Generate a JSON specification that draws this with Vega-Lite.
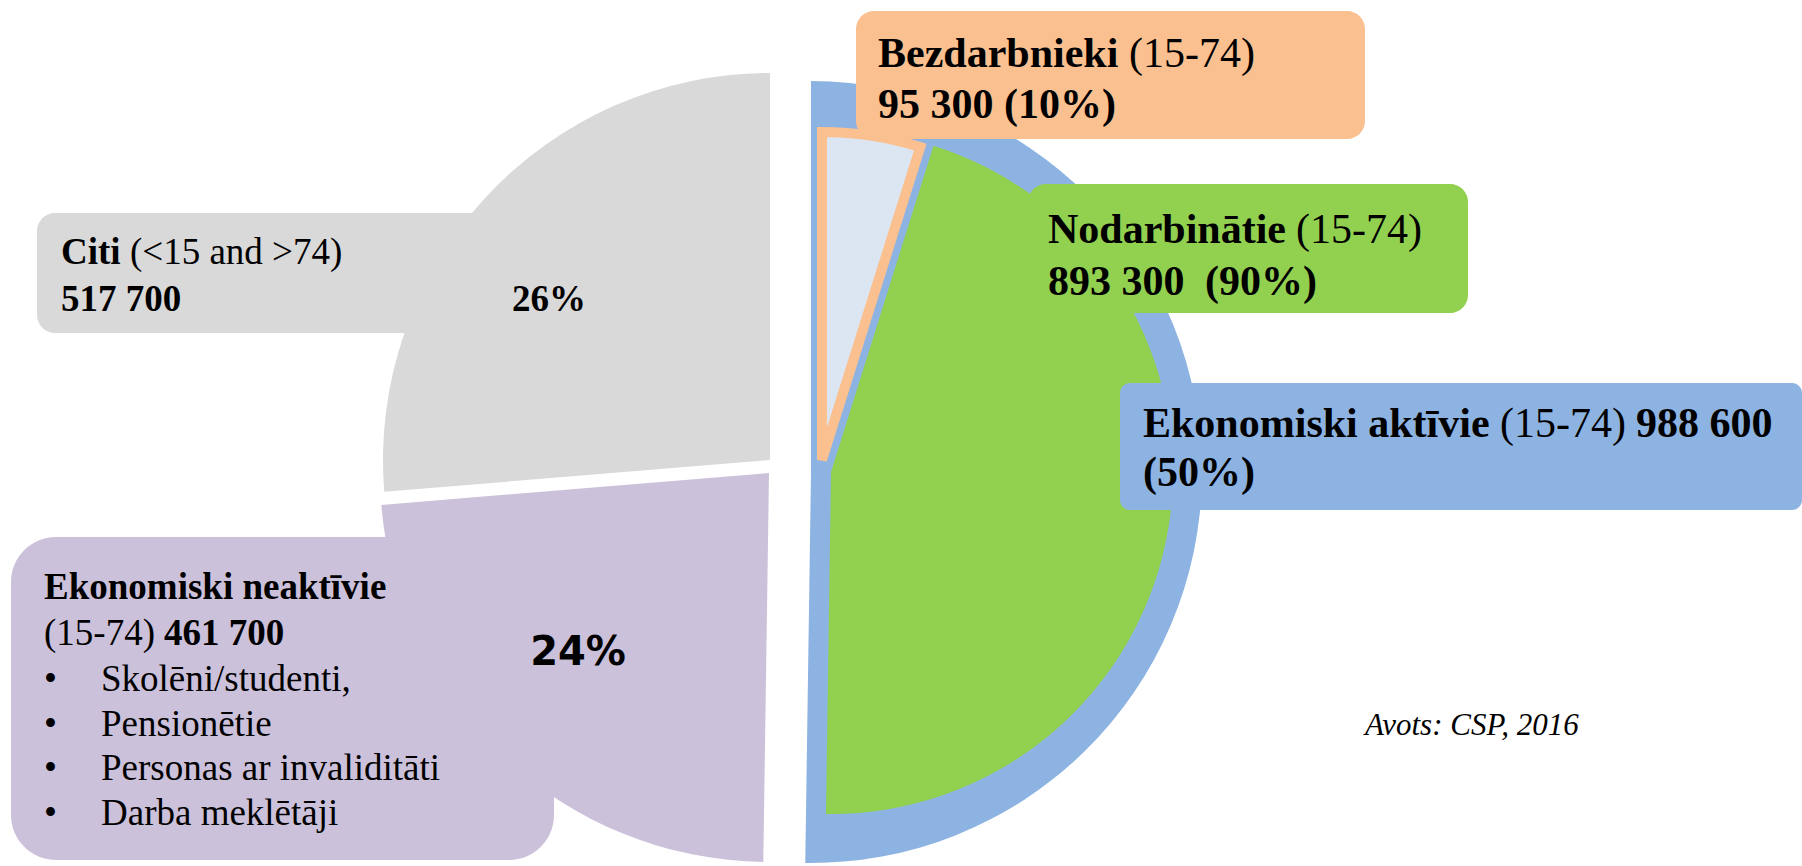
{
 "$schema": "https://vega.github.io/schema/vega-lite/v6.json",
 "width": 1802, "height": 866,
 "autosize": {"type": "fit", "contains": "padding"},
 "padding": 0,
 "background": "white",
 "config": {
  "view": {"stroke": null},
  "axis": {"disable": true},
  "locale": {"number": {"decimal": ".", "thousands": " ", "grouping": [3], "currency": ["", ""]}},
  "text": {"font": "Liberation Serif", "fontSize": 42, "align": "left", "baseline": "middle", "fill": "black"}
 },
 "datasets": {
  "parts": [
   {"level": "outer", "category": "Ekonomiski aktīvie", "age": "(15-74)", "value": 988600, "share": "(50%)"},
   {"level": "outer", "category": "Ekonomiski neaktīvie", "age": "(15-74)", "value": 461700, "share": "24%", "items": ["Skolēni/studenti,", "Pensionētie", "Personas ar invaliditāti", "Darba meklētāji"]},
   {"level": "outer", "category": "Citi", "age": "(<15 and >74)", "value": 517700, "share": "26%"},
   {"level": "inner", "category": "Bezdarbnieki", "age": "(15-74)", "value": 95300, "share": "(10%)"},
   {"level": "inner", "category": "Nodarbinātie", "age": "(15-74)", "value": 893300, "share": "(90%)"}
  ],
  "source": [{"source": "Avots: CSP, 2016"}]
 },
 "data": {"name": "parts"},
 "transform": [{"stack": "value", "groupby": ["level"], "as": ["v0", "v1"]}],
 "layer": [
  {"transform": [{"filter": {"field": "category", "equal": "Ekonomiski aktīvie"}}],
   "mark": {"type": "arc", "outerRadius": 391, "color": "#8DB3E2"},
   "encoding": {"theta": {"field": "v1", "type": "quantitative"}, "theta2": {"field": "v0"},
    "x": {"datum": 811, "type": "quantitative", "scale": {"domain": [0, 1802], "nice": false, "zero": false}, "axis": null},
    "y": {"datum": 472, "type": "quantitative", "scale": {"domain": [0, 866], "reverse": true, "nice": false, "zero": false}, "axis": null}}},
  {"transform": [{"filter": {"field": "category", "equal": "Nodarbinātie"}}],
   "mark": {"type": "arc", "outerRadius": 342, "color": "#92D050"},
   "encoding": {"theta": {"field": "v1", "type": "quantitative"}, "theta2": {"field": "v0"},
    "x": {"datum": 831, "type": "quantitative", "scale": {"domain": [0, 1802], "nice": false, "zero": false}, "axis": null},
    "y": {"datum": 472, "type": "quantitative", "scale": {"domain": [0, 866], "reverse": true, "nice": false, "zero": false}, "axis": null}}},
  {"transform": [{"filter": {"field": "category", "equal": "Bezdarbnieki"}}],
   "mark": {"type": "arc", "outerRadius": 328, "fill": "#DCE6F2", "stroke": "#FAC090", "strokeWidth": 10, "strokeJoin": "miter"},
   "encoding": {"theta": {"field": "v1", "type": "quantitative"}, "theta2": {"field": "v0"},
    "x": {"datum": 822, "type": "quantitative", "scale": {"domain": [0, 1802], "nice": false, "zero": false}, "axis": null},
    "y": {"datum": 460, "type": "quantitative", "scale": {"domain": [0, 866], "reverse": true, "nice": false, "zero": false}, "axis": null}}},
  {"transform": [{"filter": {"field": "category", "equal": "Citi"}}],
   "mark": {"type": "arc", "outerRadius": 387, "color": "#D9D9D9"},
   "encoding": {"theta": {"field": "v1", "type": "quantitative"}, "theta2": {"field": "v0"},
    "x": {"datum": 770, "type": "quantitative", "scale": {"domain": [0, 1802], "nice": false, "zero": false}, "axis": null},
    "y": {"datum": 460, "type": "quantitative", "scale": {"domain": [0, 866], "reverse": true, "nice": false, "zero": false}, "axis": null}}},
  {"transform": [{"filter": {"field": "category", "equal": "Ekonomiski neaktīvie"}}],
   "mark": {"type": "arc", "outerRadius": 389, "color": "#CCC1DA"},
   "encoding": {"theta": {"field": "v1", "type": "quantitative"}, "theta2": {"field": "v0"},
    "x": {"datum": 769, "type": "quantitative", "scale": {"domain": [0, 1802], "nice": false, "zero": false}, "axis": null},
    "y": {"datum": 473, "type": "quantitative", "scale": {"domain": [0, 866], "reverse": true, "nice": false, "zero": false}, "axis": null}}},

  {"transform": [{"filter": {"field": "category", "equal": "Bezdarbnieki"}}],
   "mark": {"type": "rect", "cornerRadius": 18, "color": "#FAC090"},
   "encoding": {"x": {"datum": 856, "type": "quantitative"}, "x2": {"datum": 1365}, "y": {"datum": 11, "type": "quantitative"}, "y2": {"datum": 139}}},
  {"transform": [{"filter": {"field": "category", "equal": "Nodarbinātie"}}],
   "mark": {"type": "rect", "cornerRadius": 18, "color": "#92D050"},
   "encoding": {"x": {"datum": 1028, "type": "quantitative"}, "x2": {"datum": 1468}, "y": {"datum": 184, "type": "quantitative"}, "y2": {"datum": 313}}},
  {"transform": [{"filter": {"field": "category", "equal": "Ekonomiski aktīvie"}}],
   "mark": {"type": "rect", "cornerRadius": 10, "color": "#8DB3E2"},
   "encoding": {"x": {"datum": 1120, "type": "quantitative"}, "x2": {"datum": 1802}, "y": {"datum": 383, "type": "quantitative"}, "y2": {"datum": 510}}},
  {"transform": [{"filter": {"field": "category", "equal": "Citi"}}],
   "mark": {"type": "rect", "cornerRadius": 18, "color": "#D9D9D9"},
   "encoding": {"x": {"datum": 37, "type": "quantitative"}, "x2": {"datum": 560}, "y": {"datum": 213, "type": "quantitative"}, "y2": {"datum": 333}}},
  {"transform": [{"filter": {"field": "category", "equal": "Ekonomiski neaktīvie"}}],
   "mark": {"type": "rect", "cornerRadius": 45, "color": "#CCC1DA"},
   "encoding": {"x": {"datum": 11, "type": "quantitative"}, "x2": {"datum": 554}, "y": {"datum": 537, "type": "quantitative"}, "y2": {"datum": 860}}},

  {"transform": [{"filter": {"field": "category", "equal": "Bezdarbnieki"}}],
   "mark": {"type": "text", "fontWeight": "bold"},
   "encoding": {"text": {"field": "category"}, "x": {"datum": 878, "type": "quantitative"}, "y": {"datum": 54, "type": "quantitative"}}},
  {"transform": [{"filter": {"field": "category", "equal": "Bezdarbnieki"}}],
   "mark": {"type": "text"},
   "encoding": {"text": {"field": "age"}, "x": {"datum": 1129, "type": "quantitative"}, "y": {"datum": 54, "type": "quantitative"}}},
  {"transform": [{"filter": {"field": "category", "equal": "Bezdarbnieki"}}],
   "mark": {"type": "text", "fontWeight": "bold"},
   "encoding": {"text": {"field": "value", "type": "quantitative", "format": ",d"}, "x": {"datum": 878, "type": "quantitative"}, "y": {"datum": 105, "type": "quantitative"}}},
  {"transform": [{"filter": {"field": "category", "equal": "Bezdarbnieki"}}],
   "mark": {"type": "text", "fontWeight": "bold"},
   "encoding": {"text": {"field": "share"}, "x": {"datum": 1004, "type": "quantitative"}, "y": {"datum": 105, "type": "quantitative"}}},

  {"transform": [{"filter": {"field": "category", "equal": "Nodarbinātie"}}],
   "mark": {"type": "text", "fontWeight": "bold"},
   "encoding": {"text": {"field": "category"}, "x": {"datum": 1048, "type": "quantitative"}, "y": {"datum": 230, "type": "quantitative"}}},
  {"transform": [{"filter": {"field": "category", "equal": "Nodarbinātie"}}],
   "mark": {"type": "text"},
   "encoding": {"text": {"field": "age"}, "x": {"datum": 1296, "type": "quantitative"}, "y": {"datum": 230, "type": "quantitative"}}},
  {"transform": [{"filter": {"field": "category", "equal": "Nodarbinātie"}}],
   "mark": {"type": "text", "fontWeight": "bold"},
   "encoding": {"text": {"field": "value", "type": "quantitative", "format": ",d"}, "x": {"datum": 1048, "type": "quantitative"}, "y": {"datum": 282, "type": "quantitative"}}},
  {"transform": [{"filter": {"field": "category", "equal": "Nodarbinātie"}}],
   "mark": {"type": "text", "fontWeight": "bold"},
   "encoding": {"text": {"field": "share"}, "x": {"datum": 1205, "type": "quantitative"}, "y": {"datum": 282, "type": "quantitative"}}},

  {"transform": [{"filter": {"field": "category", "equal": "Ekonomiski aktīvie"}}],
   "mark": {"type": "text", "fontWeight": "bold"},
   "encoding": {"text": {"field": "category"}, "x": {"datum": 1143, "type": "quantitative"}, "y": {"datum": 424, "type": "quantitative"}}},
  {"transform": [{"filter": {"field": "category", "equal": "Ekonomiski aktīvie"}}],
   "mark": {"type": "text"},
   "encoding": {"text": {"field": "age"}, "x": {"datum": 1500, "type": "quantitative"}, "y": {"datum": 424, "type": "quantitative"}}},
  {"transform": [{"filter": {"field": "category", "equal": "Ekonomiski aktīvie"}}],
   "mark": {"type": "text", "fontWeight": "bold"},
   "encoding": {"text": {"field": "value", "type": "quantitative", "format": ",d"}, "x": {"datum": 1636, "type": "quantitative"}, "y": {"datum": 424, "type": "quantitative"}}},
  {"transform": [{"filter": {"field": "category", "equal": "Ekonomiski aktīvie"}}],
   "mark": {"type": "text", "fontWeight": "bold"},
   "encoding": {"text": {"field": "share"}, "x": {"datum": 1143, "type": "quantitative"}, "y": {"datum": 473, "type": "quantitative"}}},

  {"transform": [{"filter": {"field": "category", "equal": "Citi"}}],
   "mark": {"type": "text", "fontWeight": "bold", "fontSize": 37},
   "encoding": {"text": {"field": "category"}, "x": {"datum": 61, "type": "quantitative"}, "y": {"datum": 253, "type": "quantitative"}}},
  {"transform": [{"filter": {"field": "category", "equal": "Citi"}}],
   "mark": {"type": "text", "fontSize": 37},
   "encoding": {"text": {"field": "age"}, "x": {"datum": 130, "type": "quantitative"}, "y": {"datum": 253, "type": "quantitative"}}},
  {"transform": [{"filter": {"field": "category", "equal": "Citi"}}],
   "mark": {"type": "text", "fontWeight": "bold", "fontSize": 37},
   "encoding": {"text": {"field": "value", "type": "quantitative", "format": ",d"}, "x": {"datum": 61, "type": "quantitative"}, "y": {"datum": 300, "type": "quantitative"}}},
  {"transform": [{"filter": {"field": "category", "equal": "Citi"}}],
   "mark": {"type": "text", "fontWeight": "bold", "fontSize": 37, "align": "center"},
   "encoding": {"text": {"field": "share"}, "x": {"datum": 549, "type": "quantitative"}, "y": {"datum": 300, "type": "quantitative"}}},

  {"transform": [{"filter": {"field": "category", "equal": "Ekonomiski neaktīvie"}}],
   "mark": {"type": "text", "fontWeight": "bold", "fontSize": 37},
   "encoding": {"text": {"field": "category"}, "x": {"datum": 44, "type": "quantitative"}, "y": {"datum": 588, "type": "quantitative"}}},
  {"transform": [{"filter": {"field": "category", "equal": "Ekonomiski neaktīvie"}}],
   "mark": {"type": "text", "fontSize": 37},
   "encoding": {"text": {"field": "age"}, "x": {"datum": 44, "type": "quantitative"}, "y": {"datum": 634, "type": "quantitative"}}},
  {"transform": [{"filter": {"field": "category", "equal": "Ekonomiski neaktīvie"}}],
   "mark": {"type": "text", "fontWeight": "bold", "fontSize": 37},
   "encoding": {"text": {"field": "value", "type": "quantitative", "format": ",d"}, "x": {"datum": 164, "type": "quantitative"}, "y": {"datum": 634, "type": "quantitative"}}},
  {"transform": [{"filter": {"field": "category", "equal": "Ekonomiski neaktīvie"}}],
   "mark": {"type": "text", "fontSize": 37, "baseline": "alphabetic", "lineHeight": 44.5},
   "encoding": {"text": {"value": ["•", "•", "•", "•"]}, "x": {"datum": 44, "type": "quantitative"}, "y": {"datum": 691, "type": "quantitative"}}},
  {"transform": [{"filter": {"field": "category", "equal": "Ekonomiski neaktīvie"}}],
   "mark": {"type": "text", "fontSize": 37, "baseline": "alphabetic", "lineHeight": 44.5},
   "encoding": {"text": {"field": "items"}, "x": {"datum": 101, "type": "quantitative"}, "y": {"datum": 691, "type": "quantitative"}}},
  {"transform": [{"filter": {"field": "category", "equal": "Ekonomiski neaktīvie"}}],
   "mark": {"type": "text", "font": "DejaVu Sans", "fontWeight": "bold", "fontSize": 40, "align": "center"},
   "encoding": {"text": {"field": "share"}, "x": {"datum": 578, "type": "quantitative"}, "y": {"datum": 653, "type": "quantitative"}}},

  {"data": {"name": "source"},
   "mark": {"type": "text", "fontStyle": "italic", "fontSize": 31},
   "encoding": {"text": {"field": "source"}, "x": {"datum": 1365, "type": "quantitative"}, "y": {"datum": 726, "type": "quantitative"}}}
 ]
}
